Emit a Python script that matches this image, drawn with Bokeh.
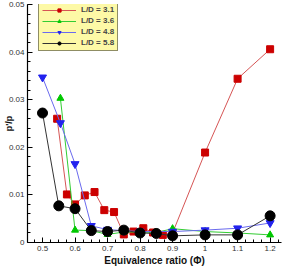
from bokeh.plotting import figure
from bokeh.models import Range1d, FixedTicker, Legend, LegendItem
from bokeh.embed import file_html
from bokeh.resources import INLINE

# ---- data ----
phi_31 = [0.545, 0.575, 0.6, 0.63, 0.66, 0.69, 0.72, 0.75, 0.78, 0.81, 0.84, 0.87, 0.9, 1.0, 1.1, 1.2]
pp_31 = [0.026, 0.0101, 0.008, 0.0099, 0.0106, 0.0068, 0.0064, 0.0017, 0.0023, 0.003, 0.0021, 0.0016, 0.002, 0.0189, 0.0344, 0.0406]

phi_36 = [0.555, 0.6, 0.65, 0.7, 0.75, 0.8, 0.85, 0.9, 1.0, 1.1, 1.2]
pp_36 = [0.0303, 0.0026, 0.0025, 0.0017, 0.0022, 0.0022, 0.0021, 0.0029, 0.0023, 0.002, 0.0016]

phi_48 = [0.5, 0.555, 0.6, 0.65, 0.7, 0.75, 0.8, 0.9, 1.0, 1.1, 1.2]
pp_48 = [0.0347, 0.0251, 0.0165, 0.0035, 0.0027, 0.0025, 0.0023, 0.0023, 0.0026, 0.003, 0.0041]

phi_58 = [0.5, 0.55, 0.6, 0.65, 0.7, 0.75, 0.8, 0.85, 0.9, 1.0, 1.1, 1.2]
pp_58 = [0.0272, 0.0077, 0.0071, 0.0025, 0.0023, 0.0026, 0.002, 0.0019, 0.0014, 0.0016, 0.0016, 0.0056]

labels = ["L/D = 3.1", "L/D = 3.6", "L/D = 4.8", "L/D = 5.8"]
x_ticks = [0.5, 0.6, 0.7, 0.8, 0.9, 1.0, 1.1, 1.2]
x_tick_labels = ["0.5", "0.6", "0.7", "0.8", "0.9", "1", "1.1", "1.2"]
y_ticks = [0.0, 0.01, 0.02, 0.03, 0.04, 0.05]
y_tick_labels = ["0", "0.01", "0.02", "0.03", "0.04", "0.05"]

FONT = "Liberation Sans"

p = figure(width=283, height=268, output_backend="svg", toolbar_location=None,
           x_range=Range1d(0.4538, 1.235), y_range=Range1d(0.0, 0.05),
           min_border_left=27, min_border_right=2, min_border_top=4, min_border_bottom=23)
p.outline_line_color = None
p.grid.visible = False
p.background_fill_color = "white"
p.border_fill_color = "white"

# axes
xminor = [round(0.45 + 0.025 * i, 3) for i in range(33)]
yminor = [round(0.002 * i, 3) for i in range(26)]
p.xaxis.ticker = FixedTicker(ticks=x_ticks, minor_ticks=xminor)
p.yaxis.ticker = FixedTicker(ticks=y_ticks, minor_ticks=yminor)
p.xaxis.major_label_overrides = dict(zip(x_ticks, x_tick_labels))
p.yaxis.major_label_overrides = dict(zip(y_ticks, y_tick_labels))
for ax in (p.xaxis, p.yaxis):
    ax.axis_line_color = "black"
    ax.axis_line_width = 1.2
    ax.major_tick_in = 5
    ax.major_tick_out = 0
    ax.minor_tick_in = 3
    ax.minor_tick_out = 0
    ax.major_tick_line_color = "black"
    ax.minor_tick_line_color = "black"
    ax.major_label_text_font = FONT
    ax.major_label_text_font_size = "8px"
    ax.major_label_text_color = "#333333"
    ax.major_label_standoff = 3
p.xaxis.axis_label = "Equivalence ratio (\u03a6)"
p.xaxis.axis_label_text_font = FONT
p.xaxis.axis_label_text_font_size = "10px"
p.xaxis.axis_label_text_font_style = "bold"
p.xaxis.axis_label_standoff = 1
p.xaxis.axis_label_text_color = "#111111"

p.yaxis.axis_label = "p'/p"
p.yaxis.axis_label_text_font = FONT
p.yaxis.axis_label_text_font_size = "9px"
p.yaxis.axis_label_text_font_style = "bold"
p.yaxis.axis_label_text_color = "#111111"
p.yaxis.axis_label_standoff = -8

# series
series = [
    (phi_31, pp_31, "#cc0000", "#d65555", "square", 7),
    (phi_36, pp_36, "#00c800", "#33cc33", "triangle", 7),
    (phi_48, pp_48, "#2222ee", "#6a6aee", "inverted_triangle", 8),
    (phi_58, pp_58, "black", "#333333", "circle", 10),
]
items = []
for (xs, ys, mc, lc, mk, sz), lab in zip(series, labels):
    r1 = p.line(xs, ys, line_color=lc, line_width=1)
    r2 = p.scatter(xs, ys, marker=mk, size=sz, fill_color=mc, line_color=mc)
    items.append(LegendItem(label=lab, renderers=[r1, r2]))

legend = Legend(items=items, location=(11, 191))
legend.background_fill_color = "#fdf9a6"
legend.background_fill_alpha = 1.0
legend.border_line_color = "#222222"
legend.border_line_width = 1
legend.label_text_font = FONT
legend.label_text_font_size = "8px"
legend.label_text_font_style = "bold"
legend.label_height = 8
legend.glyph_height = 8
legend.glyph_width = 34
legend.spacing = 2
legend.padding = 3
legend.margin = 0
legend.label_standoff = 5
p.add_layout(legend, "center")

open("out.html", "w").write(file_html(p, INLINE))
